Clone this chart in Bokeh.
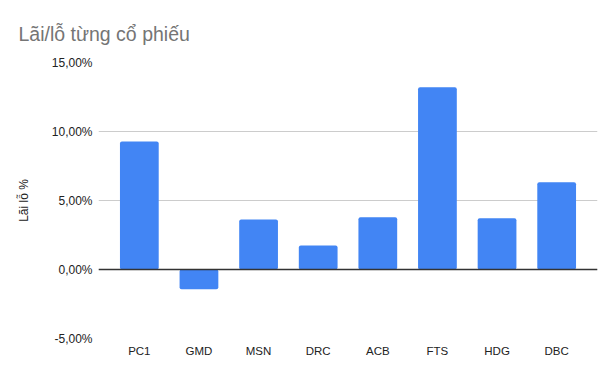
from bokeh.plotting import figure
from bokeh.models import FactorRange, Range1d, FixedTicker, CustomJSTickFormatter, Span, ColumnDataSource
from bokeh.embed import file_html
from bokeh.resources import INLINE

tickers = ["PC1", "GMD", "MSN", "DRC", "ACB", "FTS", "HDG", "DBC"]
pnl_pct = [9.27, -1.43, 3.62, 1.74, 3.79, 13.20, 3.72, 6.33]
y_ticks = [-5, 0, 5, 10, 15]

src = ColumnDataSource(dict(x=tickers, top=pnl_pct))

p = figure(width=607, height=369, output_backend="svg", toolbar_location=None,
           x_range=FactorRange(*tickers, range_padding=0.185, range_padding_units="absolute"),
           y_range=Range1d(-5, 15),
           min_border_left=98, min_border_right=10, min_border_top=62, min_border_bottom=31)

p.vbar(x="x", top="top", bottom=0, width=0.65, source=src, color="#4285F4",
       line_color=None, border_radius=2)

p.add_layout(Span(location=0, dimension="width", line_color="#333333", line_width=1.3))

p.title.text = "Lãi/lỗ từng cổ phiếu"
p.title.text_font = "Liberation Sans"
p.title.text_font_size = "19.5px"
p.title.text_font_style = "normal"
p.title.text_color = "#757575"
p.title.offset = -80
p.title.standoff = 36

p.outline_line_color = None
p.xgrid.grid_line_color = None
p.ygrid.grid_line_color = "#cccccc"
p.ygrid.grid_line_width = 1

p.yaxis.ticker = FixedTicker(ticks=y_ticks)
p.yaxis.formatter = CustomJSTickFormatter(code="return tick.toFixed(2).replace('.', ',') + '%';")
for ax in (p.xaxis, p.yaxis):
    ax.axis_line_color = None
    ax.major_tick_line_color = None
    ax.minor_tick_line_color = None
    ax.major_tick_out = 0
    ax.major_tick_in = 0
    ax.major_label_text_font = "Liberation Sans"
    ax.major_label_text_color = "#222222"
p.yaxis.major_label_text_font_size = "12px"
p.xaxis.major_label_text_font_size = "11.5px"
p.yaxis.major_label_standoff = 6
p.xaxis.major_label_standoff = 6
p.yaxis.axis_label = "Lãi lỗ %"
p.yaxis.axis_label_text_font = "Liberation Sans"
p.yaxis.axis_label_text_font_size = "12px"
p.yaxis.axis_label_text_font_style = "normal"
p.yaxis.axis_label_text_color = "#222222"
p.yaxis.axis_label_standoff = 18

open("out.html", "w").write(file_html(p, INLINE))
